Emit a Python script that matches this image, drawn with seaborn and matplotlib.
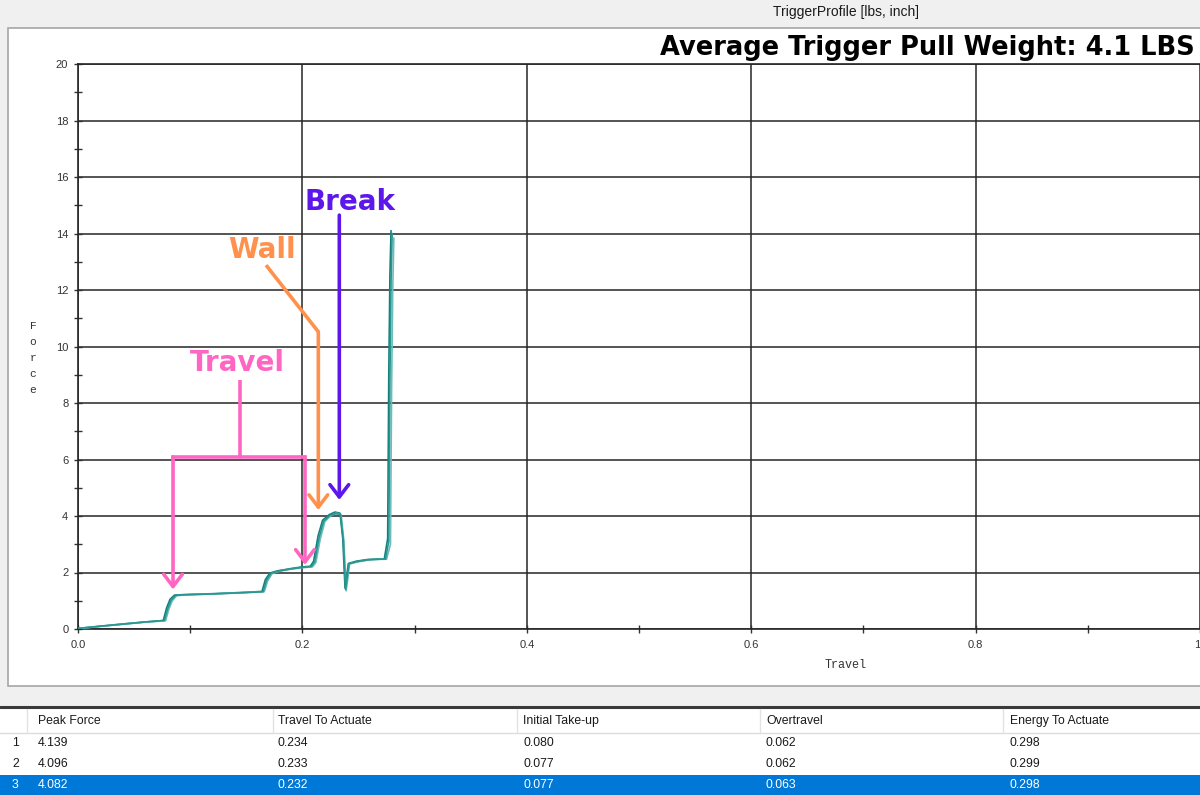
import matplotlib
matplotlib.use("Agg")
import matplotlib.pyplot as plt
import numpy as np
import pandas as pd
import seaborn as sns
from matplotlib.patches import Rectangle
from matplotlib.lines import Line2D
from matplotlib.ticker import MultipleLocator, FixedLocator

# ---------------- data ----------------
travel_1 = [0.000, 0.020, 0.040, 0.060, 0.076, 0.079, 0.082, 0.086, 0.095, 0.120, 0.150, 0.164,
            0.167, 0.171, 0.178, 0.190, 0.200, 0.207, 0.210, 0.214, 0.218, 0.224, 0.229, 0.2335,
            0.2360, 0.2380, 0.2395, 0.2410, 0.248, 0.258, 0.268, 0.2730, 0.2760, 0.2770, 0.2780, 0.2790]
force_1 = [0.02, 0.10, 0.18, 0.25, 0.30, 0.75, 1.05, 1.20, 1.22, 1.25, 1.30, 1.33,
           1.75, 1.98, 2.06, 2.14, 2.20, 2.22, 2.40, 3.30, 3.85, 4.05, 4.14, 4.10,
           3.20, 1.45, 1.90, 2.32, 2.40, 2.46, 2.48, 2.48, 3.20, 9.00, 12.50, 14.10]

travel_2 = [0.000, 0.020, 0.040, 0.060, 0.078, 0.081, 0.084, 0.088, 0.097, 0.120, 0.150, 0.166,
            0.169, 0.173, 0.180, 0.190, 0.200, 0.209, 0.212, 0.216, 0.220, 0.225, 0.230, 0.2345,
            0.2370, 0.2390, 0.2405, 0.2420, 0.250, 0.260, 0.270, 0.2750, 0.2785, 0.2795, 0.2805, 0.2815]
force_2 = [0.01, 0.09, 0.17, 0.24, 0.29, 0.70, 1.00, 1.18, 1.21, 1.24, 1.29, 1.32,
           1.70, 1.96, 2.05, 2.12, 2.17, 2.20, 2.35, 3.20, 3.80, 4.00, 4.10, 4.05,
           3.10, 1.35, 1.80, 2.30, 2.38, 2.45, 2.47, 2.47, 3.00, 8.50, 12.00, 13.84]

travel_3 = [0.000, 0.020, 0.040, 0.060, 0.077, 0.080, 0.083, 0.087, 0.096, 0.120, 0.150, 0.165,
            0.168, 0.172, 0.179, 0.190, 0.200, 0.208, 0.211, 0.215, 0.219, 0.2245, 0.2295, 0.234,
            0.2365, 0.2385, 0.2400, 0.2415, 0.249, 0.259, 0.269, 0.2740, 0.2770, 0.2780, 0.2790, 0.2800]
force_3 = [0.02, 0.10, 0.17, 0.25, 0.30, 0.72, 1.02, 1.19, 1.21, 1.24, 1.29, 1.32,
           1.72, 1.97, 2.05, 2.13, 2.18, 2.21, 2.38, 3.25, 3.82, 4.02, 4.08, 4.06,
           3.15, 1.40, 1.85, 2.31, 2.39, 2.45, 2.47, 2.47, 3.10, 8.80, 12.30, 14.00]

trace_names = ["1", "2", "3"]
trace_colors = ["#127f7b", "#6cbdb9", "#2a9692"]

x_ticks = [0.0, 0.2, 0.4, 0.6, 0.8, 1.0]
x_tick_labels = ["0.0", "0.2", "0.4", "0.6", "0.8", "1"]
y_ticks = [0, 2, 4, 6, 8, 10, 12, 14, 16, 18, 20]

table_columns = ["Peak Force", "Travel To Actuate", "Initial Take-up", "Overtravel", "Energy To Actuate"]
run_index = ["1", "2", "3"]
peak_force = ["4.139", "4.096", "4.082"]
travel_to_actuate = ["0.234", "0.233", "0.232"]
initial_take_up = ["0.080", "0.077", "0.077"]
overtravel = ["0.062", "0.062", "0.063"]
energy_to_actuate = ["0.298", "0.299", "0.298"]

df = pd.concat([
    pd.DataFrame({"Travel": travel_1, "Force": force_1, "run": trace_names[0]}),
    pd.DataFrame({"Travel": travel_2, "Force": force_2, "run": trace_names[1]}),
    pd.DataFrame({"Travel": travel_3, "Force": force_3, "run": trace_names[2]}),
], ignore_index=True)

# ---------------- figure ----------------
sns.set_theme(style="white")
plt.rcParams["font.family"] = ["Liberation Sans", "DejaVu Sans"]

W, H = 1200, 795
fig = plt.figure(figsize=(12, 7.95), dpi=100, facecolor="#f0f0f0")


def fx(px):
    return px / W


def fy(py):
    return 1 - py / H


# white chart panel
fig.patches.append(Rectangle((fx(8), fy(686)), 1.0, (686 - 28) / H, transform=fig.transFigure,
                             facecolor="white", edgecolor="#a6a6a6", lw=1.2, zorder=-2))
# table area
fig.patches.append(Rectangle((0, 0), 1.0, (795 - 707) / H, transform=fig.transFigure,
                             facecolor="white", edgecolor="none", zorder=-2))
fig.lines.append(Line2D([0, 1], [fy(707), fy(707)], transform=fig.transFigure, color="#3a3a3a", lw=2.2))
fig.lines.append(Line2D([0, 1], [fy(733), fy(733)], transform=fig.transFigure, color="#dcdcdc", lw=1))
fig.patches.append(Rectangle((0, 0), 1.0, (795 - 775) / H, transform=fig.transFigure,
                             facecolor="#0078d7", edgecolor="none", zorder=-1))
for sep in [27, 273, 517, 760, 1003]:
    fig.lines.append(Line2D([fx(sep), fx(sep)], [fy(709), fy(732)], transform=fig.transFigure,
                            color="#e3e3e3", lw=1))

col_x = [38, 278, 523, 766, 1010]
for cx, name in zip(col_x, table_columns):
    fig.text(fx(cx), fy(721), name, ha="left", va="center", fontsize=8.8, color="#1a1a1a")
rows = list(zip(run_index, peak_force, travel_to_actuate, initial_take_up, overtravel, energy_to_actuate))
row_y = [743, 764, 785]
for ry, row in zip(row_y, rows):
    col = "white" if ry == 785 else "#1a1a1a"
    fig.text(fx(12), fy(ry), row[0], ha="left", va="center", fontsize=8.8, color=col)
    for cx, val in zip(col_x, row[1:]):
        fig.text(fx(cx), fy(ry), val, ha="left", va="center", fontsize=8.8, color=col)

# window title
fig.text(fx(846), fy(12), "TriggerProfile [lbs, inch]", ha="center", va="center", fontsize=10, color="#1a1a1a")

# ---------------- axes ----------------
ax = fig.add_axes([fx(78), fy(629), fx(1200) - fx(78), (629 - 64) / H])
ax.set_zorder(2)
ax.set_facecolor("white")
sns.lineplot(data=df, x="Travel", y="Force", hue="run", palette=trace_colors, estimator=None,
             sort=False, legend=False, lw=1.2, ax=ax, zorder=3)
ax.set_xlim(0, 1)
ax.set_ylim(0, 20)
ax.xaxis.set_major_locator(FixedLocator(x_ticks))
ax.set_xticklabels(x_tick_labels)
ax.get_xticklabels()[-1].set_horizontalalignment("right")
ax.yaxis.set_major_locator(FixedLocator(y_ticks))
ax.xaxis.set_minor_locator(MultipleLocator(0.1))
ax.yaxis.set_minor_locator(MultipleLocator(1))
ax.grid(True, which="major", color="#262626", lw=1.1)
ax.tick_params(which="both", direction="inout", length=6, width=1, color="#333333",
               labelsize=8, labelcolor="#333333", left=True, bottom=True)
ax.tick_params(axis="x", pad=5)
ax.tick_params(axis="y", pad=4)
for s in ["left", "bottom", "top"]:
    ax.spines[s].set_color("#262626")
    ax.spines[s].set_linewidth(1.2)
ax.spines["right"].set_visible(False)
ax.set_xlabel("")
ax.set_ylabel("")

# axis labels
fig.text(fx(33), fy(358), "F\no\nr\nc\ne", ha="center", va="center", fontsize=8,
         family="Liberation Mono", linespacing=1.75, color="#333333")
fig.text(fx(846), fy(665), "Travel", ha="center", va="center", fontsize=8.5,
         family="Liberation Mono", color="#333333")

# big title
fig.text(fx(1195), fy(48), "Average Trigger Pull Weight: 4.1 LBS", ha="right", va="center",
         fontsize=18.5, weight="bold", family="DejaVu Sans", color="black", zorder=5)

# ---------------- annotations ----------------
pink, orange, purple = "#ff66c4", "#ff914d", "#5e17eb"
arrow_kw = dict(arrowstyle="->,head_length=0.55,head_width=0.42", lw=2.6, shrinkA=0, shrinkB=0,
                mutation_scale=16)


def label(x, y, s, c):
    ax.text(x, y, s, color=c, fontsize=20, weight="bold", family="DejaVu Sans",
            ha="center", va="center", zorder=5)


# Travel
label(0.1417, 9.42, "Travel", pink)
ax.plot([0.1444, 0.1444], [8.81, 6.09], color=pink, lw=2.6, zorder=5, solid_capstyle="butt")
ax.plot([0.0847, 0.2023], [6.09, 6.09], color=pink, lw=2.6, zorder=5, solid_capstyle="projecting")
ax.annotate("", xy=(0.0847, 1.40), xytext=(0.0847, 6.09), arrowprops=dict(color=pink, **arrow_kw), zorder=5)
ax.annotate("", xy=(0.2023, 2.27), xytext=(0.2023, 6.09), arrowprops=dict(color=pink, **arrow_kw), zorder=5)

# Wall
label(0.164, 13.42, "Wall", orange)
ax.plot([0.1676, 0.2142], [12.88, 10.52], color=orange, lw=2.6, zorder=5, solid_capstyle="butt")
ax.annotate("", xy=(0.2142, 4.21), xytext=(0.2142, 10.52), arrowprops=dict(color=orange, **arrow_kw), zorder=5)

# Break
label(0.2424, 15.12, "Break", purple)
ax.annotate("", xy=(0.2329, 4.57), xytext=(0.2329, 14.65), arrowprops=dict(color=purple, **arrow_kw), zorder=5)

fig.savefig("out.png", dpi=100, facecolor=fig.get_facecolor())
